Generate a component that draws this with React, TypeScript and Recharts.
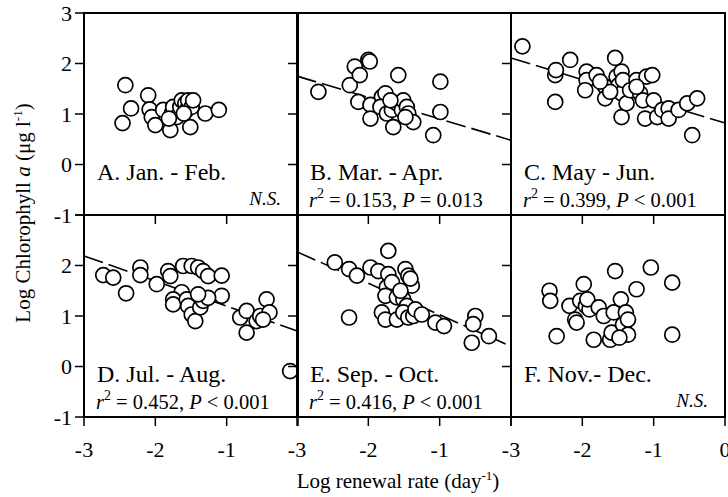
import { ScatterChart, Scatter, XAxis, YAxis, ReferenceArea } from "recharts"

const xTicks = [-3, -2, -1, 0]
const yTicks = [-1, 0, 1, 2, 3]

// A. Jan. - Feb.
const janFeb = [
  { x: -2.42, y: 1.57 }, { x: -2.46, y: 0.82 }, { x: -2.34, y: 1.11 }, { x: -2.1, y: 1.37 },
  { x: -2.08, y: 1.09 }, { x: -2.05, y: 0.94 }, { x: -2.0, y: 0.78 }, { x: -1.89, y: 1.08 },
  { x: -1.79, y: 0.68 }, { x: -1.77, y: 1.01 }, { x: -1.75, y: 1.14 }, { x: -1.7, y: 0.94 },
  { x: -1.65, y: 1.14 }, { x: -1.63, y: 1.27 }, { x: -1.58, y: 1.21 }, { x: -1.56, y: 1.08 },
  { x: -1.54, y: 1.27 }, { x: -1.51, y: 0.74 }, { x: -1.49, y: 1.14 }, { x: -1.47, y: 1.27 },
  { x: -1.3, y: 1.01 }, { x: -1.11, y: 1.08 }, { x: -1.81, y: 0.91 }, { x: -1.6, y: 1.01 },
]

// B. Mar. - Apr.
const marApr = [
  { x: -2.7, y: 1.44 }, { x: -2.26, y: 1.57 }, { x: -2.19, y: 1.94 }, { x: -2.12, y: 1.77 },
  { x: -2.0, y: 2.07 }, { x: -1.98, y: 2.04 }, { x: -2.14, y: 1.24 }, { x: -1.97, y: 1.18 },
  { x: -1.97, y: 0.91 }, { x: -1.81, y: 1.34 }, { x: -1.76, y: 1.41 }, { x: -1.83, y: 1.14 },
  { x: -1.74, y: 1.01 }, { x: -1.67, y: 1.08 }, { x: -1.65, y: 0.74 }, { x: -1.58, y: 1.77 },
  { x: -1.6, y: 1.21 }, { x: -1.53, y: 1.08 }, { x: -1.51, y: 1.27 }, { x: -1.46, y: 1.14 },
  { x: -1.44, y: 1.01 }, { x: -1.37, y: 0.84 }, { x: -1.48, y: 0.94 }, { x: -0.99, y: 1.64 },
  { x: -0.99, y: 1.04 }, { x: -1.09, y: 0.58 }, { x: -1.69, y: 1.27 },
]

// C. May - Jun.
const mayJun = [
  { x: -2.84, y: 2.34 }, { x: -2.38, y: 1.77 }, { x: -2.37, y: 1.87 }, { x: -2.38, y: 1.24 },
  { x: -2.17, y: 2.07 }, { x: -1.94, y: 1.84 }, { x: -1.94, y: 1.67 }, { x: -1.96, y: 1.47 },
  { x: -1.8, y: 1.77 }, { x: -1.68, y: 1.54 }, { x: -1.68, y: 1.31 }, { x: -1.54, y: 2.11 },
  { x: -1.52, y: 1.74 }, { x: -1.49, y: 1.57 }, { x: -1.45, y: 1.84 }, { x: -1.45, y: 1.41 },
  { x: -1.45, y: 0.94 }, { x: -1.43, y: 1.67 }, { x: -1.38, y: 1.21 }, { x: -1.33, y: 1.47 },
  { x: -1.24, y: 1.67 }, { x: -1.19, y: 1.41 }, { x: -1.15, y: 1.27 }, { x: -1.12, y: 0.91 },
  { x: -1.1, y: 1.74 }, { x: -1.02, y: 1.77 }, { x: -1.0, y: 1.27 }, { x: -0.95, y: 0.94 },
  { x: -0.88, y: 1.08 }, { x: -0.79, y: 1.11 }, { x: -0.79, y: 0.91 }, { x: -0.65, y: 1.08 },
  { x: -0.53, y: 1.21 }, { x: -0.39, y: 1.31 }, { x: -0.46, y: 0.58 }, { x: -1.61, y: 1.44 },
  { x: -1.24, y: 1.54 }, { x: -1.75, y: 1.64 },
]

// D. Jul. - Aug.
const julAug = [
  { x: -2.73, y: 1.81 }, { x: -2.59, y: 1.76 }, { x: -2.41, y: 1.45 }, { x: -2.21, y: 1.96 },
  { x: -2.21, y: 1.81 }, { x: -1.98, y: 1.63 }, { x: -1.82, y: 1.89 }, { x: -1.79, y: 1.79 },
  { x: -1.61, y: 1.99 }, { x: -1.49, y: 1.99 }, { x: -1.4, y: 1.96 }, { x: -1.33, y: 1.89 },
  { x: -1.26, y: 1.79 }, { x: -1.07, y: 1.8 }, { x: -1.07, y: 1.4 }, { x: -1.63, y: 1.47 },
  { x: -1.75, y: 1.33 }, { x: -1.75, y: 1.23 }, { x: -1.56, y: 1.33 }, { x: -1.54, y: 1.2 },
  { x: -1.49, y: 1.03 }, { x: -1.44, y: 0.9 }, { x: -1.37, y: 1.17 }, { x: -1.33, y: 1.3 },
  { x: -1.26, y: 1.36 }, { x: -1.4, y: 1.43 }, { x: -0.81, y: 0.97 }, { x: -0.72, y: 1.1 },
  { x: -0.72, y: 0.67 }, { x: -0.58, y: 0.9 }, { x: -0.53, y: 1.0 }, { x: -0.44, y: 1.33 },
  { x: -0.4, y: 1.07 }, { x: -0.49, y: 0.93 }, { x: -0.11, y: -0.09 },
]

// E. Sep. - Oct.
const sepOct = [
  { x: -2.47, y: 2.06 }, { x: -2.27, y: 1.93 }, { x: -2.16, y: 1.8 }, { x: -2.27, y: 0.97 },
  { x: -1.97, y: 1.96 }, { x: -1.86, y: 1.89 }, { x: -1.72, y: 2.29 }, { x: -1.72, y: 1.83 },
  { x: -1.74, y: 1.57 }, { x: -1.76, y: 1.4 }, { x: -1.81, y: 1.07 }, { x: -1.76, y: 0.93 },
  { x: -1.67, y: 1.67 }, { x: -1.6, y: 0.93 }, { x: -1.6, y: 1.37 }, { x: -1.48, y: 1.93 },
  { x: -1.44, y: 1.8 }, { x: -1.39, y: 1.6 }, { x: -1.51, y: 1.33 }, { x: -1.46, y: 1.2 },
  { x: -1.51, y: 1.07 }, { x: -1.44, y: 0.97 }, { x: -1.37, y: 1.0 }, { x: -1.34, y: 1.13 },
  { x: -1.25, y: 1.03 }, { x: -1.06, y: 0.87 }, { x: -0.94, y: 0.8 }, { x: -0.5, y: 1.0 },
  { x: -0.53, y: 0.84 }, { x: -0.31, y: 0.6 }, { x: -0.55, y: 0.47 }, { x: -1.55, y: 1.5 },
  { x: -1.41, y: 1.74 },
]

// F. Nov.- Dec.
const novDec = [
  { x: -2.46, y: 1.5 }, { x: -2.45, y: 1.3 }, { x: -2.36, y: 0.6 }, { x: -2.18, y: 1.2 },
  { x: -2.1, y: 0.93 }, { x: -2.08, y: 0.87 }, { x: -1.98, y: 1.63 }, { x: -2.03, y: 1.3 },
  { x: -1.95, y: 1.2 }, { x: -1.9, y: 1.13 }, { x: -1.93, y: 1.33 }, { x: -1.77, y: 1.17 },
  { x: -1.7, y: 1.0 }, { x: -1.84, y: 0.53 }, { x: -1.61, y: 0.53 }, { x: -1.59, y: 0.67 },
  { x: -1.54, y: 1.89 }, { x: -1.56, y: 1.07 }, { x: -1.46, y: 1.33 }, { x: -1.43, y: 0.83 },
  { x: -1.39, y: 1.07 }, { x: -1.36, y: 0.63 }, { x: -1.36, y: 0.93 }, { x: -1.48, y: 0.57 },
  { x: -1.24, y: 1.53 }, { x: -1.04, y: 1.96 }, { x: -0.74, y: 1.66 }, { x: -0.74, y: 0.63 },
]

// regression lines (end points)
const marAprFit = [{ x: -3, y: 1.75 }, { x: 0, y: 0.48 }]
const mayJunFit = [{ x: -3, y: 2.11 }, { x: 0, y: 0.82 }]
const julAugFit = [{ x: -3, y: 2.19 }, { x: 0, y: 0.7 }]
const sepOctFit = [{ x: -3, y: 2.27 }, { x: 0, y: 0.4 }]

const FONT = "'Liberation Serif', 'Times New Roman', serif"
const COLS = [84, 297, 511]
const ROWS = [13, 215]
const PW = 214
const PH = 202

const panels = [
  { data: janFeb, fit: null, label: "A. Jan. - Feb.", r2: "", p: "", col: 0, row: 0 },
  { data: marApr, fit: marAprFit, label: "B. Mar. - Apr.", r2: "0.153", p: "= 0.013", col: 1, row: 0 },
  { data: mayJun, fit: mayJunFit, label: "C. May - Jun.", r2: "0.399", p: "< 0.001", col: 2, row: 0 },
  { data: julAug, fit: julAugFit, label: "D. Jul. - Aug.", r2: "0.452", p: "< 0.001", col: 0, row: 1 },
  { data: sepOct, fit: sepOctFit, label: "E. Sep. - Oct.", r2: "0.416", p: "< 0.001", col: 1, row: 1 },
  { data: novDec, fit: null, label: "F. Nov.- Dec.", r2: "", p: "", col: 2, row: 1 },
]

const Dot = (p: any) => <circle cx={p.cx} cy={p.cy} r={7.5} fill="#fff" stroke="#000" strokeWidth={1.7} />
const NoShape = () => <g />

function Panel({ panel }: { panel: (typeof panels)[number] }) {
  const left = COLS[panel.col]
  const top = ROWS[panel.row]
  const showX = panel.row === 1
  const showY = panel.col === 0
  const tickStyle = { fill: "#000", fontSize: 22, fontFamily: FONT }
  return (
    <div style={{ position: "absolute", left: left - 60, top: top - 13 }}>
      <ScatterChart width={PW + 70} height={PH + 63} margin={{ top: 13, right: 10, bottom: 0, left: 0 }}>
        <XAxis
          dataKey="x"
          type="number"
          domain={[-3, 0]}
          ticks={xTicks}
          interval={0}
          height={50}
          tickSize={9}
          tickMargin={15}
          axisLine={{ stroke: "#000", strokeWidth: 2 }}
          tickLine={{ stroke: "#000", strokeWidth: 1.5 }}
          tick={tickStyle}
          tickFormatter={(v: number) => (!showX ? "" : v === 0 && panel.col < 2 ? "" : String(v))}
        />
        <YAxis
          dataKey="y"
          type="number"
          domain={[-1, 3]}
          ticks={yTicks}
          interval={0}
          width={60}
          tickSize={9}
          tickMargin={3}
          axisLine={{ stroke: "#000", strokeWidth: 2 }}
          tickLine={{ stroke: "#000", strokeWidth: 1.5 }}
          tick={tickStyle}
          tickFormatter={(v: number) => (!showY ? "" : v === 3 && panel.row === 1 ? "" : String(v))}
        />
        <ReferenceArea x1={-3} x2={0} y1={-1} y2={3} fill="none" stroke="#000" strokeWidth={2} />
        {panel.fit && (
          <Scatter
            data={panel.fit}
            line={{ stroke: "#000", strokeWidth: 1.6, strokeDasharray: "20 6" }}
            lineType="joint"
            shape={NoShape}
            isAnimationActive={false}
          />
        )}
        <Scatter data={panel.data} shape={Dot} isAnimationActive={false} />
      </ScatterChart>
    </div>
  )
}

export default function App() {
  return (
    <div style={{ position: "absolute", left: 0, top: 0, width: 728, height: 497, background: "#fff" }}>
      {panels.map((p) => (
        <Panel key={p.label} panel={p} />
      ))}
      <svg
        width={728}
        height={497}
        style={{ position: "absolute", left: 0, top: 0, pointerEvents: "none" }}
        fontFamily={FONT}
        fill="#000"
      >
        {panels.map((p) => {
          const x = COLS[p.col]
          const y = ROWS[p.row]
          return (
            <g key={p.label}>
              <text x={x + 13} y={y + 167} fontSize={24}>{p.label}</text>
              {p.r2 ? (
                <text x={x + 12} y={y + 194} fontSize={20.5}>
                  <tspan fontStyle="italic">r</tspan>
                  <tspan fontSize={14} dy={-9}>2</tspan>
                  <tspan dy={9}>{" = " + p.r2 + ", "}</tspan>
                  <tspan fontStyle="italic">P</tspan>
                  <tspan>{" " + p.p}</tspan>
                </text>
              ) : (
                <text x={x + PW - 17} y={y + 192} fontSize={19} fontStyle="italic" textAnchor="end">N.S.</text>
              )}
            </g>
          )
        })}
        <text transform="rotate(-90)" x={-213} y={30} fontSize={21} textAnchor="middle">
          Log Chlorophyll <tspan fontStyle="italic">a</tspan> (μg l<tspan fontSize={13} dy={-8}>-1</tspan>
          <tspan dy={8}>)</tspan>
        </text>
        <text x={398} y={488} fontSize={21} textAnchor="middle">
          Log renewal rate (day<tspan fontSize={13} dy={-8}>-1</tspan>
          <tspan dy={8}>)</tspan>
        </text>
      </svg>
    </div>
  )
}
